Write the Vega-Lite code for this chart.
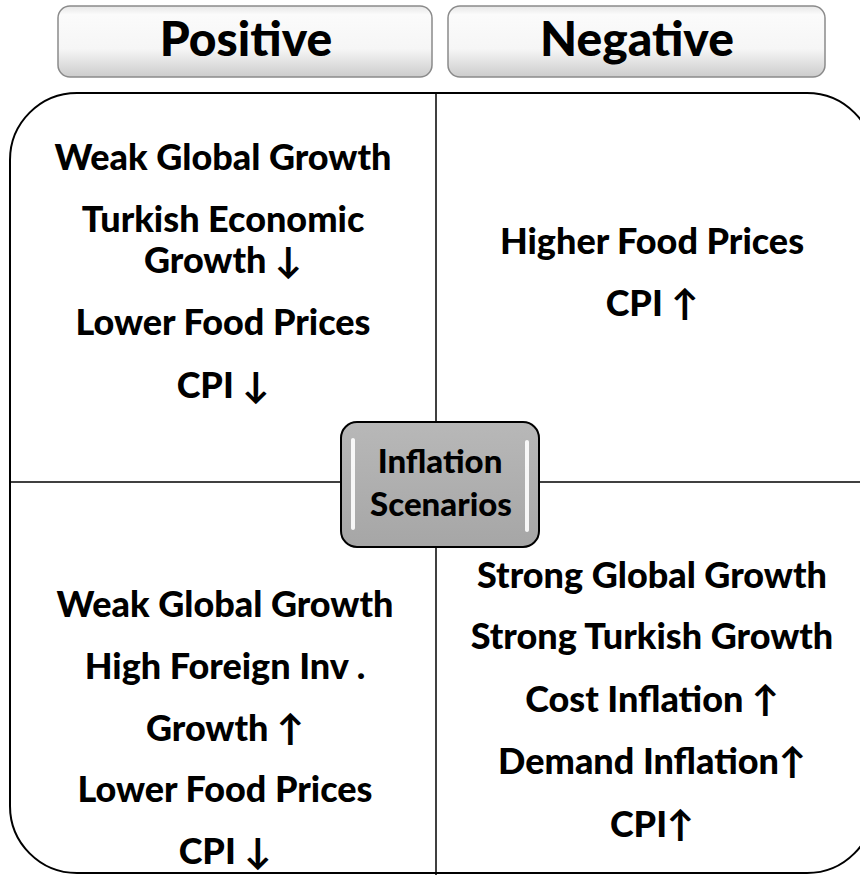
{
  "$schema": "https://vega.github.io/schema/vega-lite/v6.json",
  "width": 860,
  "height": 875,
  "padding": 0,
  "autosize": {"type": "none"},
  "background": "white",
  "config": {"view": {"stroke": null}},
  "datasets": {
    "outer": [{"x": 10, "x2": 874, "y": 93, "y2": 873}],
    "vline": [{"x": 436, "y": 93, "y2": 875}],
    "hline": [{"y": 482, "x": 10, "x2": 860}],
    "headers": [
      {"x": 58, "x2": 432, "y": 6, "y2": 77},
      {"x": 448, "x2": 825, "y": 6, "y2": 77}
    ],
    "headerText": [
      {"x": 246, "y": 42, "label": "Positive"},
      {"x": 637, "y": 42, "label": "Negative"}
    ],
    "center": [{"x": 341, "x2": 539, "y": 422, "y2": 547}],
    "highlights": [
      {"x": 351, "x2": 355, "y": 438, "y2": 530},
      {"x": 525, "x2": 529, "y": 440, "y2": 532}
    ],
    "centerText": [
      {"x": 440, "y": 463, "label": "Inflation"},
      {"x": 441, "y": 506, "label": "Scenarios"}
    ],
    "body": [
      {"x": 223, "y": 159, "label": "Weak Global Growth"},
      {"x": 223, "y": 221, "label": "Turkish Economic"},
      {"x": 223, "y": 262, "label": "Growth ↓"},
      {"x": 223, "y": 324, "label": "Lower Food Prices"},
      {"x": 223, "y": 387, "label": "CPI ↓"},
      {"x": 652, "y": 243, "label": "Higher Food Prices"},
      {"x": 652, "y": 305, "label": "CPI ↑"},
      {"x": 225, "y": 606, "label": "Weak Global Growth"},
      {"x": 225, "y": 668, "label": "High Foreign Inv ."},
      {"x": 225, "y": 730, "label": "Growth ↑"},
      {"x": 225, "y": 791, "label": "Lower Food Prices"},
      {"x": 225, "y": 853, "label": "CPI ↓"},
      {"x": 652, "y": 577, "label": "Strong Global Growth"},
      {"x": 652, "y": 638, "label": "Strong Turkish Growth"},
      {"x": 652, "y": 701, "label": "Cost Inflation ↑"},
      {"x": 652, "y": 763, "label": "Demand Inflation↑"},
      {"x": 652, "y": 826, "label": "CPI↑"}
    ]
  },
  "resolve": {"scale": {"x": "shared", "y": "shared"}},
  "layer": [
    {
      "data": {"name": "outer"},
      "mark": {"type": "rect", "fill": "white", "stroke": "black", "strokeWidth": 2, "cornerRadius": 67},
      "encoding": {
        "x": {"field": "x", "type": "quantitative", "scale": {"domain": [0, 860], "nice": false, "zero": false}, "axis": null},
        "x2": {"field": "x2"},
        "y": {"field": "y", "type": "quantitative", "scale": {"domain": [0, 875], "nice": false, "zero": false, "reverse": true}, "axis": null},
        "y2": {"field": "y2"}
      }
    },
    {
      "data": {"name": "vline"},
      "mark": {"type": "rule", "color": "black", "strokeWidth": 1.5},
      "encoding": {
        "x": {"field": "x", "type": "quantitative"},
        "y": {"field": "y", "type": "quantitative"},
        "y2": {"field": "y2"}
      }
    },
    {
      "data": {"name": "hline"},
      "mark": {"type": "rule", "color": "black", "strokeWidth": 1.5},
      "encoding": {
        "y": {"field": "y", "type": "quantitative"},
        "x": {"field": "x", "type": "quantitative"},
        "x2": {"field": "x2"}
      }
    },
    {
      "data": {"name": "headers"},
      "mark": {
        "type": "rect", "stroke": "#8a8a8a", "strokeWidth": 1.5, "cornerRadius": 12,
        "fill": {"gradient": "linear", "x1": 0, "y1": 0, "x2": 0, "y2": 1,
          "stops": [{"offset": 0, "color": "#e6e6e6"}, {"offset": 0.12, "color": "#fbfbfb"}, {"offset": 0.6, "color": "#f6f6f6"}, {"offset": 1, "color": "#cccccc"}]}
      },
      "encoding": {
        "x": {"field": "x", "type": "quantitative"},
        "x2": {"field": "x2"},
        "y": {"field": "y", "type": "quantitative"},
        "y2": {"field": "y2"}
      }
    },
    {
      "data": {"name": "headerText"},
      "mark": {"type": "text", "font": "Lato", "fontWeight": 900, "fontSize": 48, "align": "center", "baseline": "middle", "color": "black"},
      "encoding": {
        "x": {"field": "x", "type": "quantitative"},
        "y": {"field": "y", "type": "quantitative"},
        "text": {"field": "label"}
      }
    },
    {
      "data": {"name": "center"},
      "mark": {
        "type": "rect", "stroke": "black", "strokeWidth": 2, "cornerRadius": 16,
        "fill": {"gradient": "linear", "x1": 0, "y1": 0, "x2": 0, "y2": 1,
          "stops": [{"offset": 0, "color": "#b8b8b8"}, {"offset": 1, "color": "#a6a6a6"}]}
      },
      "encoding": {
        "x": {"field": "x", "type": "quantitative"},
        "x2": {"field": "x2"},
        "y": {"field": "y", "type": "quantitative"},
        "y2": {"field": "y2"}
      }
    },
    {
      "data": {"name": "highlights"},
      "mark": {"type": "rect", "fill": "white", "opacity": 0.9, "cornerRadius": 2},
      "encoding": {
        "x": {"field": "x", "type": "quantitative"},
        "x2": {"field": "x2"},
        "y": {"field": "y", "type": "quantitative"},
        "y2": {"field": "y2"}
      }
    },
    {
      "data": {"name": "centerText"},
      "mark": {"type": "text", "font": "Lato", "fontWeight": 900, "fontSize": 33, "align": "center", "baseline": "middle", "color": "black"},
      "encoding": {
        "x": {"field": "x", "type": "quantitative"},
        "y": {"field": "y", "type": "quantitative"},
        "text": {"field": "label"}
      }
    },
    {
      "data": {"name": "body"},
      "mark": {"type": "text", "font": "Lato", "fontWeight": 900, "fontSize": 36, "align": "center", "baseline": "middle", "color": "black"},
      "encoding": {
        "x": {"field": "x", "type": "quantitative"},
        "y": {"field": "y", "type": "quantitative"},
        "text": {"field": "label"}
      }
    }
  ]
}
